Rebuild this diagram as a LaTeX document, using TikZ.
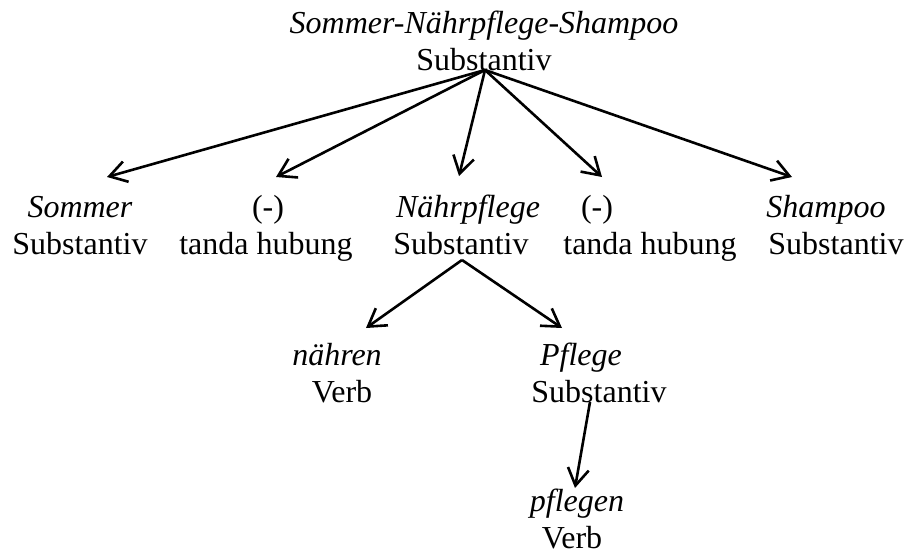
\documentclass[tikz,border=0pt]{standalone}
\usepackage{fontspec}
\setmainfont{Liberation Serif}
\usetikzlibrary{arrows.meta,calc}
\tikzset{
  lbl/.style={anchor=base, inner sep=0pt, font=\fontsize{32}{37}\selectfont},
  arr/.style={line width=2.6pt, -{Straight Barb[length=17pt,width=21pt,line width=2.6pt]}}
}
\newcommand{\twoline}[2]{\begin{tabular}[t]{@{}c@{}}#1\\#2\end{tabular}}
\begin{document}
\begin{tikzpicture}[x=1pt,y=-1pt]
\useasboundingbox (0,0) rectangle (906,554);
% top
\node[lbl] (top) at (484,34) {\twoline{\textit{Sommer-Nährpflege-Shampoo}}{Substantiv}};
% row 2
\node[lbl] (sommer) at (80,217) {\twoline{\textit{Sommer}}{Substantiv}};
\node[lbl] (tandaA) at (266,217) {\twoline{\hspace*{4pt}(-)}{tanda hubung}};
\node[lbl] (naehrpflege) at (461,217) {\twoline{\hspace*{14pt}\textit{Nährpflege}}{Substantiv}};
\node[lbl] (tandaB) at (650,217) {\twoline{(-)\hspace*{106pt}}{tanda hubung}};
\node[lbl] (shampoo) at (836,217) {\twoline{\textit{Shampoo}\hspace*{20pt}}{Substantiv}};
% row 3
\node[lbl] (naehren) at (342,365) {\twoline{\textit{nähren}\hspace*{10pt}}{Verb}};
\node[lbl] (pflege) at (599,365) {\twoline{\textit{Pflege}\hspace*{36pt}}{Substantiv}};
% row 4
\node[lbl] (pflegen) at (572,511) {\twoline{\hspace*{10pt}\textit{pflegen}}{Verb}};
% arrows
\draw[arr] ($(top.base)+(1,36)$) -- ($(sommer.base)+(27,-40)$);
\draw[arr] ($(top.base)+(1,36)$) -- ($(tandaA.base)+(10,-40)$);
\draw[arr] ($(top.base)+(1,36)$) -- ($(naehrpflege.base)+(-2,-41)$);
\draw[arr] ($(top.base)+(1,36)$) -- ($(tandaB.base)+(-48,-40)$);
\draw[arr] ($(top.base)+(1,36)$) -- ($(shampoo.base)+(-44,-40)$);
\draw[arr] ($(naehrpflege.base)+(1,43)$) -- ($(naehren.base)+(24,-37)$);
\draw[arr] ($(naehrpflege.base)+(1,43)$) -- ($(pflege.base)+(-37,-37)$);
\draw[arr] ($(pflege.base)+(-9,37)$) -- ($(pflegen.base)+(3,-23)$);
\end{tikzpicture}
\end{document}
